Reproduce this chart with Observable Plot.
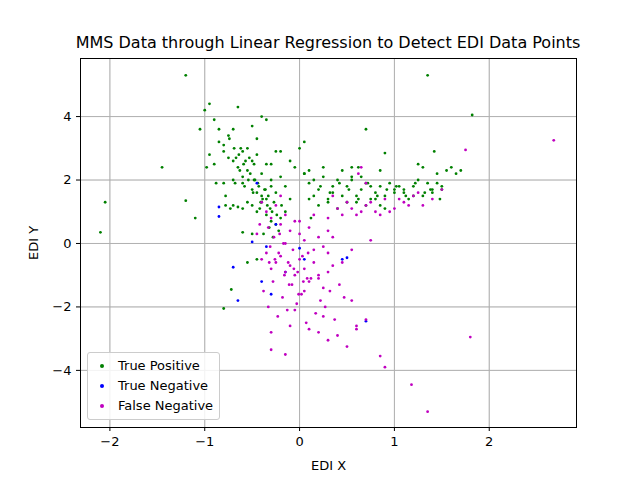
<!DOCTYPE html>
<html><head><meta charset="utf-8">
<script src="https://cdn.jsdelivr.net/npm/d3@7"></script>
<script src="https://cdn.jsdelivr.net/npm/@observablehq/plot@0.6"></script>
<style>
body{margin:0;font-family:"DejaVu Sans",sans-serif;background:#fff}
#wrap{position:relative;width:640px;height:480px}
#title{position:absolute;top:33px;left:0;width:656px;text-align:center;font-size:16px;white-space:nowrap}
#legend{position:absolute;left:87px;top:352px;border:1px solid #ccc;border-radius:3px;background:rgba(255,255,255,0.85);padding:3px 6px;font-size:13px;line-height:20px}
#legend span.d{display:inline-block;width:4px;height:4px;border-radius:2px;margin:0 14px 2px 6px;vertical-align:middle}
</style></head><body>
<div id="wrap"><div id="title">MMS Data through Linear Regression to Detect EDI Data Points</div><div id="chart"></div>
<div id="legend"></div></div>
<script>
const labels=["True Positive","True Negative","False Negative"];
const colors=["green","blue","#c000c0"];
const tpX=[-1.2,1.35,-2.05,-2.1,1.82,-1.45,-0.8,0.7,-1.2,-1.1,-1,-0.95,-0.9,-0.85,-0.8,-0.75,-0.7,-0.65,-0.6,-0.55,-0.5,-0.45,-0.4,-0.35,-0.3,-0.95,-0.9,-0.85,-0.8,-0.75,-0.7,-0.65,-0.6,-0.55,-0.5,-0.45,-0.4,-0.35,-0.3,-0.25,-0.8,-0.7,-0.6,-0.5,-0.45,-0.4,-0.35,-0.3,-0.25,-0.2,-0.7,-0.6,-0.55,-0.5,-0.45,-0.4,-0.35,-0.3,-0.25,-0.2,-0.15,-0.1,-1.05,-0.98,-0.88,-0.78,-0.68,-0.58,-0.48,-0.42,-0.38,-0.32,-0.28,-0.22,0.05,0.1,0.15,0.2,0.25,0.3,0.35,0.4,0.45,0.5,0.55,0.6,0.65,0.7,0.75,0.8,0.85,0.9,0.95,1.0,1.05,1.1,1.15,1.2,1.25,1.3,1.35,1.4,1.45,1.5,1.55,1.6,1.65,1.7,0.1,0.2,0.3,0.4,0.5,0.6,0.7,0.8,0.9,1.0,1.1,1.2,1.3,1.4,1.45,0.0,0.05,0.15,0.25,0.35,0.45,0.55,0.65,0.75,0.85,0.9,1.25,1.42,1.5,-0.1,-0.05,0.05,-0.15,-0.2,0.1,0.62,0.55,0.85,-0.65,-0.6,-0.5,-0.45,-0.55,
-0.72,-0.67,-0.62,-0.57,-0.52,-0.47,-0.43,-0.37,-0.33,-0.27,-0.73,-0.63,-0.53,-0.48,-0.44,-0.39,-0.34,-0.29,-0.24,-0.19,-0.78,-0.74,-0.69,-0.64,-0.59,-0.54,-0.49,-0.41,-0.36,-0.31,0.12,0.22,0.32,0.42,0.52,0.62,0.72,0.82,0.92,1.02,1.12,1.22,1.32,1.38,1.48];
const tpY=[5.3,5.3,1.3,0.35,4.05,2.4,-2.05,3.6,1.35,0.8,4.2,4.4,3.9,3.6,3.1,3.4,3.6,4.3,2.9,3.0,3.7,3.3,4.0,3.9,2.5,2.8,2.5,3.2,2.9,2.7,2.6,2.4,2.1,2.3,2.6,2.8,2.2,2.5,2.0,2.9,1.9,2.0,1.9,1.7,1.6,1.5,1.4,1.8,1.6,2.1,1.2,1.1,1.3,1.2,1.0,1.3,0.9,0.7,0.6,0.8,1.0,1.4,3.6,2.4,1.9,1.2,1.9,1.8,2.0,1.1,0.3,0.5,0.2,0.4,2.2,1.9,1.5,1.7,2.1,1.4,1.6,2.0,1.5,1.8,2.4,1.3,1.7,1.9,1.4,1.6,1.8,1.5,1.9,1.7,1.8,1.6,1.4,1.8,2.0,1.5,1.9,1.7,2.2,1.8,2.3,2.4,2.2,2.3,1.4,1.2,1.3,1.1,1.3,1.5,1.2,1.4,1.1,1.6,1.7,1.5,2.4,1.6,1.9,3.0,3.2,2.0,2.4,1.8,2.3,2.0,2.1,1.8,2.3,2.85,2.5,2.9,1.7,2.6,2.4,2.2,1.8,2.9,2.3,2.4,2.1,1.2,1.15,0.35,0.3,-0.5,-0.6,-1.45,
2.7,3.0,2.6,2.2,2.0,1.8,1.7,1.5,1.3,1.1,2.3,2.7,2.5,1.9,1.4,1.2,1.0,0.9,1.2,1.5,3.3,3.0,2.8,2.5,2.0,1.6,1.3,1.7,1.1,0.8,1.8,1.6,1.9,1.7,1.4,1.9,1.5,1.7,1.8,1.5,1.9,1.6,1.7,1.4,1.6];
const tnX=[-0.85,-0.85,-0.7,-0.65,-0.45,-0.3,-0.35,0.0,0.5,0.7,-0.4,-0.5,0.05,-0.25,0.45,-0.15];
const tnY=[1.15,0.85,-0.75,-1.8,1.9,-1.6,-0.1,-0.15,-0.45,-2.45,-1.2,0.05,-0.5,0.6,-0.5,-0.9];
const fnX=[2.68,1.75,1.8,1.35,1.18,0.85,0.9,-0.3,-0.15,0.3,0.5,0.6,0.7,0.2,-0.4,-0.35,-0.3,-0.25,-0.2,-0.15,-0.1,-0.05,0.0,0.05,0.1,0.15,0.2,0.25,0.3,-0.4,-0.35,-0.3,-0.25,-0.2,-0.15,-0.1,-0.05,0.0,0.05,0.1,0.15,0.2,0.25,0.3,0.35,-0.38,-0.28,-0.18,-0.08,0.02,0.12,0.22,0.32,0.42,-0.33,-0.23,-0.13,-0.03,0.07,0.17,0.27,0.37,0.47,0.55,0.3,0.4,0.5,0.6,0.7,0.8,0.9,1.0,1.1,1.2,1.3,1.4,1.5,0.35,0.45,0.55,0.65,0.75,0.85,0.95,1.05,1.15,1.25,-0.45,-0.2,0.0,0.15,0.35,0.55,0.75,-0.1,0.1,0.25,0.4,0.6,-0.3,-0.05,0.05,0.2,-0.15,0.3,0.45,-0.42,-0.32,0.62,0.65,0.7,
-0.33,-0.27,-0.22,-0.17,-0.12,-0.07,-0.02,0.03,0.08,-0.31,-0.26,-0.21,-0.16,-0.11,-0.06,-0.01,0.04,0.09];
const fnY=[3.25,2.95,-2.95,-5.3,-4.45,-3.55,-3.9,-3.35,-3.5,-3.05,-3.25,-2.7,-2.4,-2.8,1.3,1.0,0.8,1.2,0.6,0.9,0.4,0.7,0.3,0.1,0.5,-0.2,0.2,-0.1,0.4,-0.5,-0.3,-0.8,-0.6,-0.4,-0.9,-0.7,-1.0,-0.5,-0.8,-1.2,-0.6,-1.0,-1.4,-0.9,-0.7,-1.5,-1.2,-1.7,-1.3,-1.6,-1.1,-1.8,-1.5,-1.3,-2.0,-2.3,-2.1,-1.9,-2.5,-2.2,-2.0,-2.4,-1.7,-1.8,0.8,1.1,1.3,0.9,1.2,1.0,1.4,1.1,1.3,1.5,1.2,1.4,1.7,1.5,0.9,1.1,1.0,1.3,0.9,1.0,1.4,1.2,1.6,0.3,1.5,0.7,0.9,0.2,-0.2,0.1,-2.6,-2.7,-2.3,-2.9,-2.6,-2.8,-2.1,-1.5,-1.1,0.0,-0.3,-0.6,0.6,-0.6,2.2,2.4,1.9,
0.5,0.2,-0.3,0.0,-0.6,-0.2,-0.9,-0.4,-1.1,-0.1,-0.5,0.3,-1.0,-1.3,-0.8,-1.6,-1.2,-0.3];
const data=[];
[[tpX,tpY],[tnX,tnY],[fnX,fnY]].forEach(([xs,ys],k)=>xs.forEach((x,i)=>data.push({x,y:ys[i],s:labels[k]})));
const chart=Plot.plot({width:640,height:480,marginTop:58,marginLeft:80,marginRight:64,marginBottom:53,
 style:{fontFamily:"DejaVu Sans",fontSize:"13px",color:"#000"},
 x:{domain:[-2.31,2.92],ticks:[-2,-1,0,1,2],tickFormat:d=>String(d).replace("-","−"),label:"EDI X",labelAnchor:"center",labelArrow:"none",labelOffset:42,grid:true,tickSize:4},
 y:{domain:[-5.8,5.83],ticks:[-4,-2,0,2,4],tickFormat:d=>String(d).replace("-","−"),label:"EDI Y",labelAnchor:"center",labelArrow:"none",labelOffset:52,grid:true,tickSize:4},
 color:{domain:labels,range:colors},
 marks:[
  Plot.gridX([-2,-1,0,1,2],{stroke:"#b0b0b0",strokeOpacity:1}),
  Plot.gridY([-4,-2,0,2,4],{stroke:"#b0b0b0",strokeOpacity:1}),
  Plot.dot(data,{x:"x",y:"y",fill:"s",r:1.4,stroke:null}),
  Plot.frame({stroke:"#000"})
 ]});
document.getElementById("chart").appendChild(chart);
document.getElementById("legend").innerHTML=labels.map((l,i)=>`<div><span class="d" style="background:${colors[i]}"></span>${l}</div>`).join("");
</script></body></html>
